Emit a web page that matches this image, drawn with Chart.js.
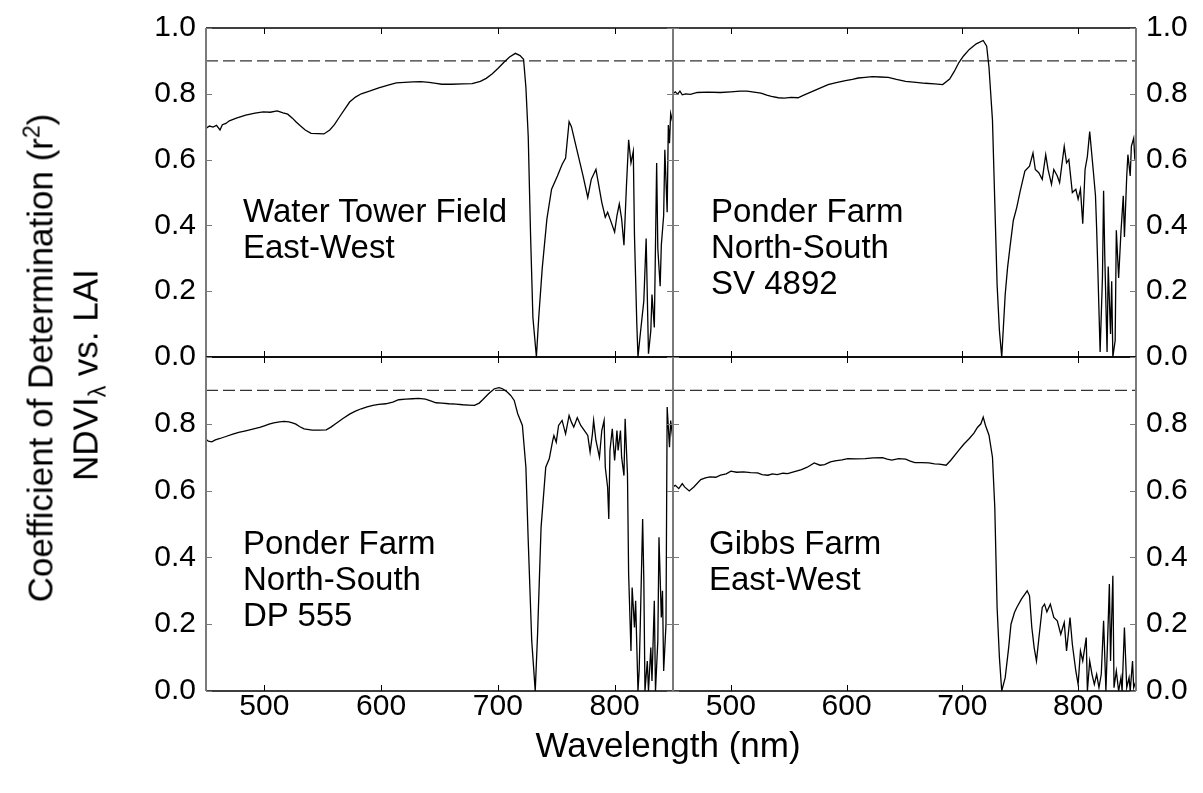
<!DOCTYPE html>
<html>
<head>
<meta charset="utf-8">
<script src="https://cdn.jsdelivr.net/npm/chart.js@4.4.1/dist/chart.umd.min.js"></script>
<style>
  body { margin: 0; background: #fff; }
  #wrap { position: relative; width: 1203px; height: 793px; overflow: hidden; font-family: "Liberation Sans", Arial, sans-serif; color: #000; }
  canvas { position: absolute; left: 0; top: 0; }
  .lbl { position: absolute; font-size: 33px; line-height: 36px; white-space: nowrap; }
  .rot { position: absolute; font-size: 35px; line-height: 35px; white-space: nowrap; transform: translate(-50%, -50%) rotate(-90deg); }
  .xt { position: absolute; font-size: 35px; line-height: 38px; white-space: nowrap; transform: translateX(-50%); }
</style>
</head>
<body>
<div id="wrap">
  <canvas id="tl" width="1203" height="793"></canvas>
  <canvas id="tr" width="1203" height="793"></canvas>
  <canvas id="bl" width="1203" height="793"></canvas>
  <canvas id="br" width="1203" height="793"></canvas>

  <div class="lbl" style="left:243px; top:193px;">Water Tower Field<br>East-West</div>
  <div class="lbl" style="left:711px; top:193px;">Ponder Farm<br>North-South<br>SV 4892</div>
  <div class="lbl" style="left:243px; top:525px;">Ponder Farm<br>North-South<br>DP 555</div>
  <div class="lbl" style="left:709px; top:525px;">Gibbs Farm<br>East-West</div>

  <div class="rot" style="left:40px; top:358px;">Coefficient of Determination (r<sup style="font-size:23px; line-height:0;">2</sup>)</div>
  <div class="rot" style="left:85px; top:375px;">NDVI<sub style="font-size:23px; line-height:0;">λ</sub> vs. LAI</div>
  <div class="xt" style="left:668px; top:726px;">Wavelength (nm)</div>
</div>

<script>
// tick positions
var wavelengthTicks = [500, 600, 700, 800];
var r2Ticks = [0, 0.2, 0.4, 0.6, 0.8, 1.0];
var threshold = 0.9;

// Water Tower Field, East-West
var wtfWavelength = [450,453,456,459,462,464,467,470,476,484,492,499,505,511,516,520,524,527,531,535,540,546,551,556,560,564,569,573,578,583,590,598,606,613,620,627,634,641,647,652,660,670,678,685,690,695,700,705,710,715,719,722,724,726,728,730,733,735,738,742,746,751,755,758,761,763,765,769,773,777,780,784,786,789,792,794,797,800,802,804,806,808,810,812,814,816,817,819,820,822,825,827,829,831,832,834,836,837,839,840,842,843,845,846,847,848,850];
var wtfR2 = [0.695,0.702,0.699,0.704,0.690,0.706,0.710,0.718,0.726,0.735,0.741,0.745,0.744,0.748,0.742,0.738,0.726,0.715,0.702,0.690,0.680,0.679,0.678,0.690,0.706,0.728,0.754,0.775,0.790,0.800,0.808,0.818,0.826,0.833,0.835,0.836,0.837,0.835,0.832,0.829,0.829,0.830,0.831,0.838,0.847,0.860,0.877,0.895,0.912,0.923,0.916,0.905,0.82,0.67,0.37,0.12,0.0,0.12,0.27,0.42,0.51,0.55,0.585,0.605,0.715,0.70,0.67,0.61,0.55,0.485,0.54,0.57,0.53,0.47,0.425,0.44,0.41,0.38,0.43,0.465,0.42,0.34,0.51,0.66,0.59,0.625,0.37,0.10,0.0,0.07,0.17,0.36,0.01,0.08,0.19,0.09,0.59,0.33,0.215,0.34,0.43,0.63,0.44,0.705,0.65,0.74,0.71];

// Ponder Farm, North-South, SV 4892
var sv4892Wavelength = [450,452,454,456,458,461,465,471,480,491,500,508,514,520,526,531,535,541,546,552,558,563,569,576,584,591,599,605,610,616,622,629,636,643,651,660,668,676,683,689,693,697,701,706,712,718,721,723,726,728,730,732,734,737,739,741,744,747,750,754,758,761,763,766,769,772,774,777,779,782,784,788,790,792,795,798,800,802,804,806,808,810,813,815,816,817,819,821,822,823,825,826,828,829,830,832,833,835,837,839,840,842,843,845,846,848,849,850];
var sv4892R2 = [0.800,0.806,0.799,0.808,0.797,0.800,0.798,0.804,0.805,0.804,0.806,0.808,0.808,0.805,0.802,0.796,0.792,0.788,0.787,0.789,0.788,0.796,0.805,0.816,0.828,0.834,0.840,0.844,0.848,0.850,0.852,0.851,0.850,0.844,0.838,0.835,0.832,0.830,0.828,0.845,0.868,0.895,0.915,0.935,0.952,0.962,0.945,0.88,0.72,0.47,0.22,0.08,0.0,0.19,0.27,0.33,0.415,0.455,0.505,0.565,0.58,0.62,0.57,0.56,0.54,0.615,0.57,0.525,0.57,0.55,0.53,0.64,0.59,0.60,0.50,0.51,0.48,0.51,0.405,0.57,0.61,0.685,0.57,0.49,0.39,0.27,0.015,0.24,0.505,0.31,0.015,0.275,0.07,0.23,0.0,0.05,0.385,0.24,0.38,0.49,0.365,0.55,0.615,0.55,0.64,0.665,0.60,0.63];

// Ponder Farm, North-South, DP 555
var dp555Wavelength = [450,452,455,458,462,467,473,478,484,490,496,500,504,508,513,517,521,524,527,530,534,541,547,553,557,561,567,573,578,583,588,593,598,604,610,615,621,627,632,638,643,647,652,658,664,670,675,680,684,687,692,697,701,704,708,711,714,717,721,724,726,729,732,734,737,741,744,747,748,750,752,755,758,761,763,765,768,771,774,777,779,781,782,784,787,789,791,792,794,795,796,798,800,802,803,805,806,808,809,811,812,814,815,817,818,820,821,822,824,825,826,828,829,831,832,834,835,837,838,840,841,842,844,845,847,848,850];
var dp555R2 = [0.754,0.748,0.746,0.752,0.756,0.762,0.769,0.774,0.779,0.784,0.789,0.794,0.799,0.803,0.806,0.807,0.806,0.803,0.799,0.792,0.785,0.781,0.781,0.782,0.790,0.800,0.815,0.829,0.838,0.845,0.851,0.855,0.858,0.860,0.865,0.872,0.874,0.875,0.876,0.874,0.868,0.863,0.862,0.860,0.859,0.857,0.856,0.855,0.862,0.872,0.890,0.905,0.908,0.905,0.895,0.885,0.870,0.830,0.795,0.67,0.45,0.15,0.0,0.17,0.49,0.67,0.695,0.75,0.765,0.745,0.795,0.81,0.77,0.825,0.805,0.79,0.818,0.795,0.78,0.765,0.715,0.77,0.81,0.75,0.70,0.78,0.81,0.67,0.61,0.515,0.72,0.785,0.69,0.78,0.72,0.78,0.70,0.645,0.815,0.65,0.35,0.12,0.31,0.19,0.27,0.0,0.06,0.20,0.515,0.335,0.0,0.09,0.0,0.13,0.03,0.27,0.0,0.15,0.46,0.22,0.30,0.06,0.20,0.85,0.73,0.81,0.75];

// Gibbs Farm, East-West
var gibbsWavelength = [450,452,455,458,460,464,468,474,478,482,487,491,496,500,505,511,517,523,527,532,536,540,545,549,555,561,566,572,577,581,586,590,596,601,608,616,623,631,635,639,645,651,655,659,665,671,676,680,686,690,697,701,706,710,713,716,718,720,723,726,728,730,732,734,737,740,742,745,747,751,754,756,758,760,762,764,766,769,771,773,776,779,782,785,788,790,793,795,798,800,802,804,807,808,810,812,814,816,818,820,822,824,826,827,828,830,831,833,835,837,838,840,842,844,845,847,848,850];
var gibbsR2 = [0.611,0.616,0.606,0.621,0.611,0.599,0.611,0.633,0.638,0.641,0.640,0.646,0.650,0.658,0.655,0.656,0.654,0.653,0.648,0.646,0.650,0.648,0.652,0.651,0.657,0.663,0.670,0.683,0.676,0.678,0.686,0.689,0.692,0.696,0.695,0.696,0.698,0.699,0.694,0.691,0.696,0.694,0.688,0.684,0.684,0.683,0.680,0.679,0.676,0.691,0.721,0.738,0.756,0.772,0.789,0.800,0.82,0.795,0.766,0.70,0.55,0.25,0.10,0.0,0.04,0.13,0.20,0.235,0.25,0.275,0.29,0.30,0.285,0.19,0.13,0.09,0.155,0.25,0.26,0.237,0.26,0.22,0.21,0.17,0.205,0.12,0.22,0.14,0.06,0.02,0.12,0.09,0.16,0.0,0.09,0.05,0.02,0.05,0.01,0.05,0.21,0.0,0.21,0.32,0.09,0.345,0.01,0.06,0.0,0.04,0.0,0.19,0.01,0.04,0.0,0.09,0.01,0.03];

Chart.defaults.font.family = '"Liberation Sans", Arial, sans-serif';
Chart.defaults.color = '#000';

function toPoints(xs, ys) {
  return xs.map(function(x, i){ return {x: x, y: ys[i]}; });
}

// frame with inward ticks on all four sides
var panelFrame = {
  id: 'panelFrame',
  afterDatasetsDraw: function(chart) {
    var ctx = chart.ctx, a = chart.chartArea;
    var xs = chart.scales.x, ys = chart.scales.y;
    ctx.save();
    ctx.strokeStyle = '#000';
    ctx.lineWidth = 1;
    ctx.beginPath();
    wavelengthTicks.forEach(function(v){
      var px = Math.round(xs.getPixelForValue(v)) + 0.5;
      ctx.moveTo(px, a.top); ctx.lineTo(px, a.top + 6);
      ctx.moveTo(px, a.bottom); ctx.lineTo(px, a.bottom - 6);
    });
    ctx.stroke();
    ctx.lineWidth = 1.6;
    ctx.beginPath();
    ctx.moveTo(a.left, a.top); ctx.lineTo(a.right, a.top);
    ctx.moveTo(a.left, a.bottom); ctx.lineTo(a.right, a.bottom);
    ctx.stroke();
    ctx.strokeStyle = '#7a7a7a';
    ctx.lineWidth = 1;
    ctx.beginPath();
    r2Ticks.forEach(function(v){
      var py = Math.round(ys.getPixelForValue(v)) + 0.5;
      ctx.moveTo(a.left, py); ctx.lineTo(a.left + 6, py);
      ctx.moveTo(a.right, py); ctx.lineTo(a.right - 6, py);
    });
    ctx.stroke();
    ctx.lineWidth = 2;
    ctx.beginPath();
    ctx.moveTo(a.left, a.top); ctx.lineTo(a.left, a.bottom);
    ctx.moveTo(a.right, a.top); ctx.lineTo(a.right, a.bottom);
    ctx.stroke();
    ctx.restore();
  }
};

function makePanel(id, xs, ys, side, bottomRow) {
  var padding = {
    left: side === 'left' ? 146 : 673,
    right: side === 'left' ? 530 : 7,
    top: bottomRow ? 357 : 23,
    bottom: bottomRow ? 52 : 436
  };
  return new Chart(document.getElementById(id), {
    type: 'line',
    data: {
      datasets: [{
        data: toPoints(xs, ys),
        borderColor: '#000',
        borderWidth: 1.3,
        pointRadius: 0,
        tension: 0
      }, {
        data: [{x: 450, y: threshold}, {x: 850, y: threshold}],
        borderColor: '#333',
        borderWidth: 1.4,
        borderDash: [12, 5],
        pointRadius: 0
      }]
    },
    options: {
      responsive: false,
      animation: false,
      devicePixelRatio: 1,
      layout: { padding: padding },
      plugins: { legend: { display: false }, tooltip: { enabled: false } },
      scales: {
        x: {
          type: 'linear',
          min: 450,
          max: 850,
          display: bottomRow,
          grid: { display: false, drawTicks: false },
          border: { display: false },
          afterBuildTicks: function(s){ s.ticks = wavelengthTicks.map(function(v){ return {value: v}; }); },
          afterFit: function(s){ s.height = bottomRow ? 50 : 0; },
          ticks: { font: { size: 30 }, padding: -2, maxRotation: 0, callback: function(v){ return String(v); } }
        },
        y: {
          type: 'linear',
          position: side,
          min: 0,
          max: 1,
          grid: { display: false, drawTicks: false },
          border: { display: false },
          afterBuildTicks: function(s){ s.ticks = r2Ticks.map(function(v){ return {value: v}; }); },
          afterFit: function(s){ s.width = 60; },
          ticks: {
            font: { size: 30 },
            padding: 10,
            callback: function(v){ return (bottomRow && v === 1) ? '' : v.toFixed(1); }
          }
        }
      }
    },
    plugins: [panelFrame]
  });
}

makePanel('tl', wtfWavelength, wtfR2, 'left', false);
makePanel('tr', sv4892Wavelength, sv4892R2, 'right', false);
makePanel('bl', dp555Wavelength, dp555R2, 'left', true);
makePanel('br', gibbsWavelength, gibbsR2, 'right', true);
</script>
</body>
</html>
